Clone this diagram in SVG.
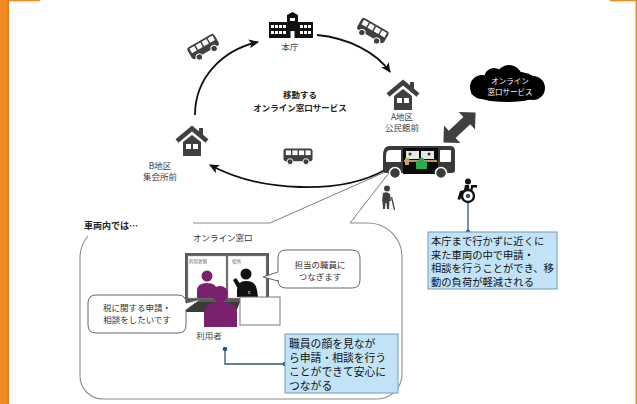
<svg xmlns="http://www.w3.org/2000/svg" width="637" height="404" viewBox="0 0 637 404">
  <style>
    text { font-family: "Noto Sans CJK JP", "Noto Sans", sans-serif; }
    .lbl { font-size: 8.5px; fill: #444; text-anchor: middle; }
    .bold { font-weight: bold; fill: #222; }
    .icon { fill: #404040; }
    .arc { fill: none; stroke: #111; stroke-width: 1.8; marker-end: url(#head); }
    .note { fill: #c2e2f6; stroke: #6f9cc2; stroke-width: 1; }
    .note-t { font-size: 10.3px; fill: #111; }
    .note-t2 { font-size: 10.8px; fill: #111; }
    .lead { fill: none; stroke: #2f5576; stroke-width: 1.3; }
    .dot { fill: #2f5576; }
    .bubble { fill: #fff; stroke: #555; stroke-width: 0.9; stroke-linejoin: round; }
    .bub-t { font-size: 8.5px; fill: #333; text-anchor: middle; }
    .purple { fill: #7b1f6f; }
  </style>
  <defs>
    <marker id="head" markerWidth="10" markerHeight="9" refX="9" refY="4.5" orient="auto" markerUnits="userSpaceOnUse">
      <path d="M0,0 L10,4.5 L0,9 L2.5,4.5 Z" fill="#111"/>
    </marker>
    <symbol id="bus" viewBox="0 0 32 18" overflow="visible">
      <rect x="0.5" y="0.5" width="31" height="13.5" rx="3" fill="#404040"/>
      <rect x="3" y="2.5" width="5.5" height="5" fill="#fff"/>
      <rect x="10" y="2.5" width="5.5" height="5" fill="#fff"/>
      <rect x="17" y="2.5" width="5.5" height="5" fill="#fff"/>
      <rect x="24" y="2.5" width="5.5" height="5" fill="#fff"/>
      <circle cx="7.5" cy="14.5" r="3.2" fill="#404040" stroke="#fff" stroke-width="1"/>
      <circle cx="24.5" cy="14.5" r="3.2" fill="#404040" stroke="#fff" stroke-width="1"/>
    </symbol>
    <symbol id="house" viewBox="0 0 36 32" overflow="visible">
      <polyline points="3,16 18,3.5 33,16" fill="none" stroke="#404040" stroke-width="4.5"/>
      <rect x="25" y="3" width="4" height="8" fill="#404040"/>
      <path d="M9,17 L18,10 L27,17 V31 H9 Z" fill="#404040"/>
      <rect x="12" y="19" width="5" height="5" fill="#fff"/>
      <rect x="19" y="19" width="5" height="5" fill="#fff"/>
    </symbol>
  </defs>

  <!-- page frame -->
  <rect x="0" y="0" width="9" height="404" fill="#f28a22"/>
  <rect x="7.5" y="0" width="1.5" height="404" fill="#e07816"/>
  <rect x="9" y="0" width="31" height="1.3" fill="#f28a22"/>
  <rect x="635.5" y="0" width="1.5" height="404" fill="#f28a22"/>
  <rect x="610" y="0" width="27" height="1.3" fill="#f28a22"/>

  <!-- route arrows -->
  <g id="connectors">
    <path class="arc" d="M195,115 C195,78 222,50 258,42"/>
    <path class="arc" d="M317,35 C348,38 376,52 390,72"/>
    <path class="arc" d="M385,170 C340,195 260,192 210,165"/>
    <!-- callout tail from the vehicle -->
    <path d="M270,223 L392,169 L350,223" fill="none" stroke="#4a6076" stroke-width="0.8"/>
    <!-- leaders -->
    <path class="lead" d="M468,196 V232"/>
    <circle class="dot" cx="468" cy="196" r="2.3"/>
    <circle class="dot" cx="468" cy="232" r="2.3"/>
    <path class="lead" d="M225,349 V364 H285"/>
    <circle class="dot" cx="225" cy="349" r="2.3"/>
    <circle class="dot" cx="285" cy="364" r="2.3"/>
  </g>

  <!-- head office -->
  <g id="honcho">
    <path d="M269,22 H287 V15 L292.5,12 L298,15 V22 H313 V38 H269 Z" fill="#111"/>
    <g fill="#fff">
      <rect x="271" y="25" width="3" height="3"/><rect x="275" y="25" width="3" height="3"/>
      <rect x="279" y="25" width="3" height="3"/><rect x="283" y="25" width="3" height="3"/>
      <rect x="271" y="31" width="3" height="3"/><rect x="275" y="31" width="3" height="3"/>
      <rect x="279" y="31" width="3" height="3"/><rect x="283" y="31" width="3" height="3"/>
      <rect x="300" y="25" width="3" height="3"/><rect x="304" y="25" width="3" height="3"/>
      <rect x="308" y="25" width="3" height="3"/>
      <rect x="300" y="31" width="3" height="3"/><rect x="304" y="31" width="3" height="3"/>
      <rect x="308" y="31" width="3" height="3"/>
      <rect x="290" y="18" width="5" height="3"/>
      <rect x="290.5" y="31" width="4" height="7"/>
    </g>
    <text class="lbl" x="290" y="50">本庁</text>
  </g>

  <!-- moving buses -->
  <g id="bus-nw"><use href="#bus" x="-16" y="-9" width="32" height="18" transform="translate(204,48) rotate(-30)"/></g>
  <g id="bus-ne"><use href="#bus" x="-16" y="-9" width="32" height="18" transform="translate(372,32) rotate(30)"/></g>
  <g id="bus-s"><use href="#bus" x="283" y="148" width="30" height="17"/></g>

  <!-- centre caption -->
  <g id="caption">
    <text class="bold" x="300" y="98" font-size="8.5" text-anchor="middle">移動する</text>
    <text class="bold" x="300" y="111" font-size="8.5" text-anchor="middle">オンライン窓口サービス</text>
  </g>

  <!-- stops -->
  <g id="stop-a">
    <use href="#house" x="385" y="79" width="36" height="32"/>
    <text class="lbl" x="402" y="120">A地区</text>
    <text class="lbl" x="402" y="131">公民館前</text>
  </g>
  <g id="stop-b">
    <use href="#house" x="174" y="125" width="36" height="32"/>
    <text class="lbl" x="160" y="169">B地区</text>
    <text class="lbl" x="160" y="180">集会所前</text>
  </g>

  <!-- online service cloud -->
  <g id="cloud">
    <g fill="#000">
      <circle cx="509" cy="78" r="13"/>
      <circle cx="482" cy="87" r="12"/>
      <circle cx="533" cy="88" r="12"/>
      <ellipse cx="507" cy="92" rx="36" ry="10"/>
      <circle cx="494" cy="78" r="10"/>
      <ellipse cx="510" cy="85" rx="30" ry="14"/>
    </g>
    <text x="510" y="84" font-size="7.5" fill="#fff" text-anchor="middle">オンライン</text>
    <text x="510" y="95" font-size="7.5" fill="#fff" text-anchor="middle">窓口サービス</text>
  </g>

  <!-- two-way arrow -->
  <g id="link">
    <polygon class="icon" transform="translate(459.5,127.5) rotate(-43)" points="-22,0 -10,-12 -10,-5 10,-5 10,-12 22,0 10,12 10,5 -10,5 -10,12"/>
  </g>

  <!-- service vehicle -->
  <g id="vehicle">
    <path d="M389,146 H450 Q455,146 455,151 V170 Q455,173 452,173 H386 Q383,173 383,170 V156 Q383,146 389,146 Z" fill="#3a3a3a"/>
    <path d="M390,150 H401 V162 H386 V156 Q386,150 390,150 Z" fill="#fff"/>
    <rect x="440" y="150" width="11" height="12" rx="1" fill="#fff"/>
    <rect x="403" y="148" width="35" height="26" fill="#0a0a0a"/>
    <rect x="406" y="151" width="13" height="8" fill="#e6e6e6"/>
    <rect x="421" y="151" width="13" height="8" fill="#e6e6e6"/>
    <circle cx="410" cy="154" r="1.5" fill="#333"/>
    <circle cx="429" cy="154" r="1.5" fill="#333"/>
    <rect x="404" y="160" width="33" height="2" fill="#b59a66"/>
    <rect x="405" y="158" width="4" height="7" fill="#c9a865"/>
    <rect x="416" y="161" width="11" height="8" fill="#22b14c"/>
    <circle cx="421.5" cy="160" r="2.5" fill="#22b14c"/>
    <circle cx="395" cy="173" r="5.5" fill="#3a3a3a" stroke="#fff" stroke-width="1.5"/>
    <circle cx="441" cy="173" r="5.5" fill="#3a3a3a" stroke="#fff" stroke-width="1.5"/>
  </g>

  <!-- residents -->
  <g id="elder" class="icon">
    <circle cx="387" cy="188.5" r="3"/>
    <path d="M383,193 Q387,191 390,194 L391,201 H389.5 L389,209 H387 L386.5,203 H385.5 L385,209 H383 L382.5,201 H382 Z"/>
    <line x1="391.5" y1="197" x2="394.5" y2="210" stroke="#404040" stroke-width="1.3"/>
  </g>
  <g id="wheelchair">
    <circle cx="468" cy="181.5" r="3" fill="#111"/>
    <path d="M465,185 L469,185 L469.5,192 L463,193 L460,200 L457.5,199 L460,191 L464,190 Z" fill="#111"/>
    <path d="M471,185 H477 V187.5 H473 L472,193 H470 Z" fill="#111"/>
    <circle cx="468" cy="196" r="6" fill="#fff" stroke="#111" stroke-width="2.4"/>
    <circle class="dot" cx="468" cy="196" r="2.3"/>
  </g>

  <!-- note: no trip to office -->
  <g id="note-travel">
    <rect class="note" x="428" y="232" width="129" height="57"/>
    <text class="note-t" x="431" y="245">本庁まで行かずに近くに</text>
    <text class="note-t" x="431" y="258.5">来た車両の中で申請・</text>
    <text class="note-t" x="431" y="272">相談を行うことができ、移</text>
    <text class="note-t" x="431" y="285.5">動の負荷が軽減される</text>
  </g>

  <!-- inside the vehicle -->
  <g id="inside">
    <path d="M193,223 H270 M350,223 H368 A34,34 0 0 1 402,257 V374 A25,25 0 0 1 377,399 H103 A23,23 0 0 1 80,376 V258 A34,34 0 0 1 88,236" fill="none" stroke="#8c8c8c" stroke-width="1.1"/>
    <text class="bold" x="84" y="229" font-size="9">車両内では…</text>
    <text x="193" y="241" font-size="8.5" fill="#333">オンライン窓口</text>
  </g>

  <g id="monitor">
    <rect x="185" y="253" width="84" height="49" fill="#5a5a5a"/>
    <rect x="188" y="256" width="38" height="42" fill="#fff" stroke="#aaa" stroke-width="0.5"/>
    <rect x="228" y="256" width="38" height="42" fill="#fff" stroke="#aaa" stroke-width="0.5"/>
    <text x="189" y="263" font-size="4.5" fill="#666">利用者側</text>
    <text x="232" y="263" font-size="4.5" fill="#666">役所</text>
    <circle class="purple" cx="207" cy="276" r="5.5"/>
    <path class="purple" d="M197,298 V291 Q197,283 207,283 Q217,283 217,291 V298 Z"/>
    <circle cx="246" cy="274" r="5.5" fill="#111"/>
    <path d="M237,297 V290 Q237,281 246,281 Q256,281 257,290 L258,297 Z M238,289 L233,280 L236,278 L241,285 Z" fill="#111"/>
    <text x="248" y="294" font-size="5" fill="#fff">c</text>
    <path d="M186,302 H240 L236,312 H182 Z" fill="#3a3a3a"/>
  </g>

  <g id="user">
    <circle class="purple" cx="220" cy="294" r="8"/>
    <path class="purple" d="M204,327 V313 Q204,302 220,302 Q237,302 237,313 V327 Z"/>
    <rect x="240" y="297" width="40" height="28" fill="#fff" stroke="#777" stroke-width="1"/>
    <text class="lbl" x="209" y="339" fill="#333">利用者</text>
  </g>

  <g id="bubble-user">
    <path class="bubble" d="M96,295 H178 Q186,295 186,303 L201,299 L186,310 V325 Q186,333 178,333 H96 Q88,333 88,325 V303 Q88,295 96,295 Z"/>
    <text class="bub-t" x="137" y="311">税に関する申請・</text>
    <text class="bub-t" x="137" y="323">相談をしたいです</text>
  </g>

  <g id="bubble-staff">
    <path class="bubble" d="M286,250 H352 Q360,250 360,258 V280 Q360,288 352,288 H286 Q278,288 278,280 V281 L263,277 L278,272 V258 Q278,250 286,250 Z"/>
    <text class="bub-t" x="320" y="268">担当の職員に</text>
    <text class="bub-t" x="320" y="280">つなぎます</text>
  </g>

  <!-- note: face to face -->
  <g id="note-face">
    <rect class="note" x="285" y="334" width="113" height="59"/>
    <text class="note-t2" x="289" y="348">職員の顔を見なが</text>
    <text class="note-t2" x="289" y="362">ら申請・相談を行う</text>
    <text class="note-t2" x="289" y="376">ことができて安心に</text>
    <text class="note-t2" x="289" y="390">つながる</text>
  </g>
</svg>
